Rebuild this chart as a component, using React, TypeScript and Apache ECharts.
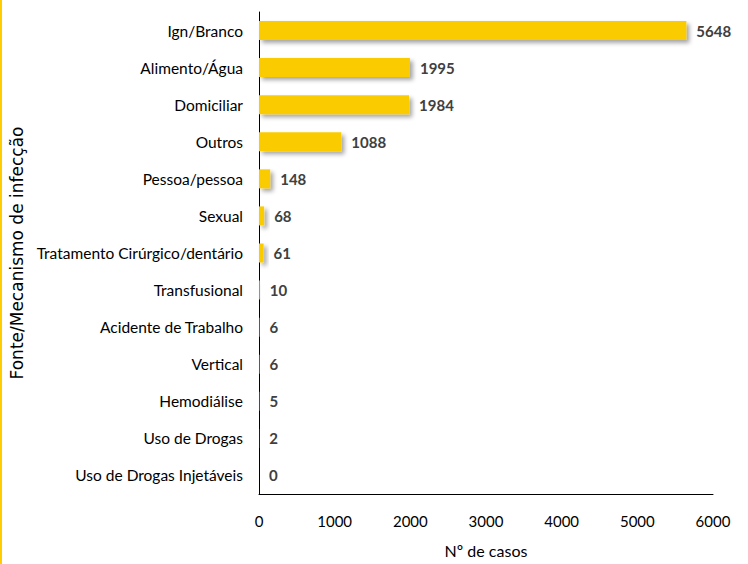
import React, { useEffect, useRef } from "react";
import * as echarts from "echarts";

const categories = [
  "Ign/Branco",
  "Alimento/Água",
  "Domiciliar",
  "Outros",
  "Pessoa/pessoa",
  "Sexual",
  "Tratamento Cirúrgico/dentário",
  "Transfusional",
  "Acidente de Trabalho",
  "Vertical",
  "Hemodiálise",
  "Uso de Drogas",
  "Uso de Drogas Injetáveis",
];
const casos = [5648, 1995, 1984, 1088, 148, 68, 61, 10, 6, 6, 5, 2, 0];
const xTicks = { min: 0, max: 6000, interval: 1000 };

const LABEL_FONT = "Lato, 'Liberation Sans', sans-serif";

export default function App() {
  const ref = useRef<HTMLDivElement>(null);
  useEffect(() => {
    if (!ref.current) return;
    const chart = echarts.init(ref.current, undefined, { renderer: "svg" });
    chart.setOption({
      animation: false,
      backgroundColor: "#ffffff",
      grid: {
        left: 259,
        right: 35,
        top: 12,
        bottom: 70,
        containLabel: false,
        outerBoundsMode: "none",
      },
      graphic: [
        {
          type: "rect",
          left: 0,
          top: 0,
          shape: { x: 0, y: 0, width: 2, height: 564 },
          style: { fill: "#FFCC00" },
        },
      ],
      xAxis: {
        type: "value",
        min: xTicks.min,
        max: xTicks.max,
        interval: xTicks.interval,
        name: "Nº de casos",
        nameLocation: "middle",
        nameGap: 48,
        nameTextStyle: { fontFamily: LABEL_FONT, fontSize: 16, color: "#000" },
        axisLine: { show: true, lineStyle: { color: "#000", width: 1 } },
        axisTick: { show: false },
        splitLine: { show: false },
        axisLabel: {
          margin: 19,
          fontFamily: LABEL_FONT,
          fontSize: 15,
          color: "#000",
          formatter: (v: number) => String(v),
        },
      },
      yAxis: {
        type: "category",
        data: categories,
        inverse: true,
        name: "Fonte/Mecanismo de infecção",
        nameLocation: "middle",
        nameGap: 232,
        nameRotate: 90,
        nameTextStyle: { fontFamily: "'DejaVu Sans', sans-serif", fontSize: 17, color: "#000" },
        axisLine: { show: true, lineStyle: { color: "#000", width: 1 } },
        axisTick: { show: false },
        axisLabel: { margin: 16, fontFamily: LABEL_FONT, fontSize: 15.5, color: "#000" },
      },
      series: [
        {
          type: "bar",
          data: casos,
          barWidth: 19,
          itemStyle: {
            color: "#FACC00",
            shadowColor: "rgba(0,0,0,0.35)",
            shadowBlur: 4,
            shadowOffsetX: 3,
            shadowOffsetY: 3,
          },
          label: {
            show: true,
            position: "right",
            distance: 10,
            fontFamily: LABEL_FONT,
            fontWeight: "bold",
            fontSize: 15,
            color: "#404040",
          },
        },
      ],
    });
    return () => chart.dispose();
  }, []);
  return (
    <div
      ref={ref}
      style={{ position: "fixed", left: 0, top: 0, width: 748, height: 564 }}
    />
  );
}
